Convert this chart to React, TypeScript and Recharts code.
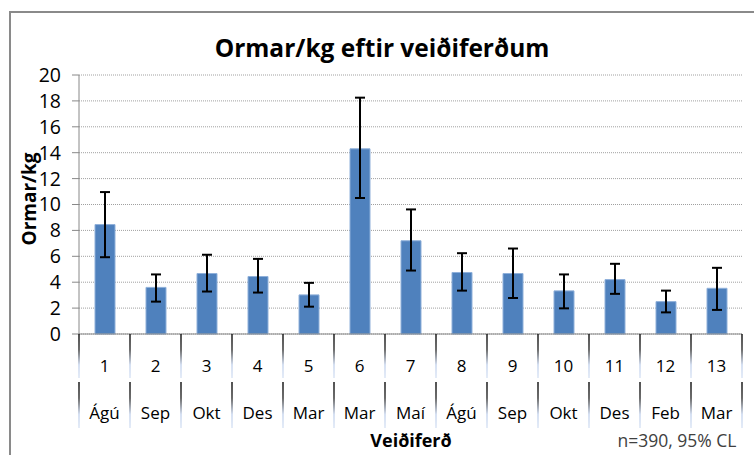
import { BarChart, Bar, XAxis, YAxis, CartesianGrid, ErrorBar } from 'recharts'

const trips   = ['1', '2', '3', '4', '5', '6', '7', '8', '9', '10', '11', '12', '13']
const months  = ['Ágú', 'Sep', 'Okt', 'Des', 'Mar', 'Mar', 'Maí', 'Ágú', 'Sep', 'Okt', 'Des', 'Feb', 'Mar']
const wormsKg = [8.45, 3.6, 4.67, 4.44, 3.02, 14.3, 7.2, 4.75, 4.67, 3.33, 4.2, 2.5, 3.53]
const ciLow   = [5.93, 2.5, 3.28, 3.2, 2.11, 10.5, 4.9, 3.35, 2.78, 1.98, 3.1, 1.67, 1.86]
const ciHigh  = [10.96, 4.6, 6.12, 5.8, 3.95, 18.25, 9.62, 6.24, 6.6, 4.6, 5.42, 3.35, 5.11]
const yTicks  = [0, 2, 4, 6, 8, 10, 12, 14, 16, 18, 20]

const data = trips.map((t, i) => ({
  trip:  t,
  month: months[i],
  value: wormsKg[i],
  err:   [wormsKg[i] - ciLow[i], ciHigh[i] - wormsKg[i]],
}))

const W = 754
const H = 455
const M = { top: 75, right: 12, bottom: 26, left: 0 }
const Y_W = 79
const STEP = (W - M.left - M.right - Y_W) / trips.length
const FONT = '"Open Sans", sans-serif'

function Sep({ x, y, h }: { x: number; y: number; h: number }) {
  return <rect x={x - 0.75} y={y} width={1.5} height={h} fill="url(#sepGrad)" />
}

function CatTick({ x, y, payload }: any) {
  const i = payload.index
  const last = i === trips.length - 1
  return (
    <g>
      <Sep x={x - STEP / 2} y={y} h={44} />
      <Sep x={x - STEP / 2} y={y + 48} h={46} />
      {last && <Sep x={x + STEP / 2} y={y} h={44} />}
      {last && <Sep x={x + STEP / 2} y={y + 48} h={46} />}
      <text x={x} y={y + 38} textAnchor="middle" fontFamily={FONT} fontSize={17} fill="#000">
        {trips[i]}
      </text>
      <text x={x} y={y + 85} textAnchor="middle" fontFamily={FONT} fontSize={17} fill="#000">
        {months[i]}
      </text>
    </g>
  )
}

export default function App() {
  return (
    <div style={{ position: 'fixed', left: 0, top: 0, width: W, height: H, overflow: 'hidden', background: '#fff', fontFamily: FONT }}>
      <div style={{ position: 'absolute', left: 9, top: 11, width: 800, height: 500, border: '2px solid #8a8a8a' }} />
      <div style={{ position: 'absolute', left: 382, top: 47, transform: 'translate(-50%, -50%)', fontSize: 24.5, fontWeight: 700, whiteSpace: 'nowrap' }}>
        Ormar/kg eftir veiðiferðum
      </div>
      <div style={{ position: 'absolute', left: 29, top: 199, transform: 'translate(-50%, -50%) rotate(-90deg)', fontSize: 19, fontWeight: 700, whiteSpace: 'nowrap' }}>
        Ormar/kg
      </div>
      <div style={{ position: 'absolute', left: 411, top: 440, transform: 'translate(-50%, -50%)', fontSize: 18, fontWeight: 700 }}>
        Veiðiferð
      </div>
      <div style={{ position: 'absolute', left: 677, top: 440, transform: 'translate(-50%, -50%)', fontSize: 17.5, color: '#404040', whiteSpace: 'nowrap' }}>
        n=390, 95% CL
      </div>
      <BarChart width={W} height={H} data={data} margin={M} barSize={20}>
        <defs>
          <linearGradient id="sepGrad" x1="0" y1="0" x2="0" y2="1">
            <stop offset="0%" stopColor="#1a1a1a" />
            <stop offset="35%" stopColor="#3a3a3a" />
            <stop offset="70%" stopColor="#c8d6ee" />
            <stop offset="100%" stopColor="#dbe5f5" />
          </linearGradient>
        </defs>
        <CartesianGrid vertical={false} stroke="#a0a0a0" strokeDasharray="1 1" />
        <XAxis
          dataKey="trip"
          height={95}
          interval={0}
          tickSize={0}
          tickMargin={0}
          axisLine={{ stroke: '#888' }}
          tick={<CatTick />}
        />
        <YAxis
          width={Y_W}
          domain={[0, 20]}
          ticks={yTicks}
          interval={0}
          tickSize={7}
          tickMargin={11}
          axisLine={{ stroke: '#888' }}
          tickLine={{ stroke: '#888' }}
          tick={{ fill: '#000', fontSize: 19.5, fontFamily: FONT }}
        />
        <Bar dataKey="value" fill="#4f81bd" stroke="#8fb0da" strokeWidth={1} isAnimationActive={false}>
          <ErrorBar dataKey="err" width={5} stroke="#000" strokeWidth={2} />
        </Bar>
      </BarChart>
    </div>
  )
}
